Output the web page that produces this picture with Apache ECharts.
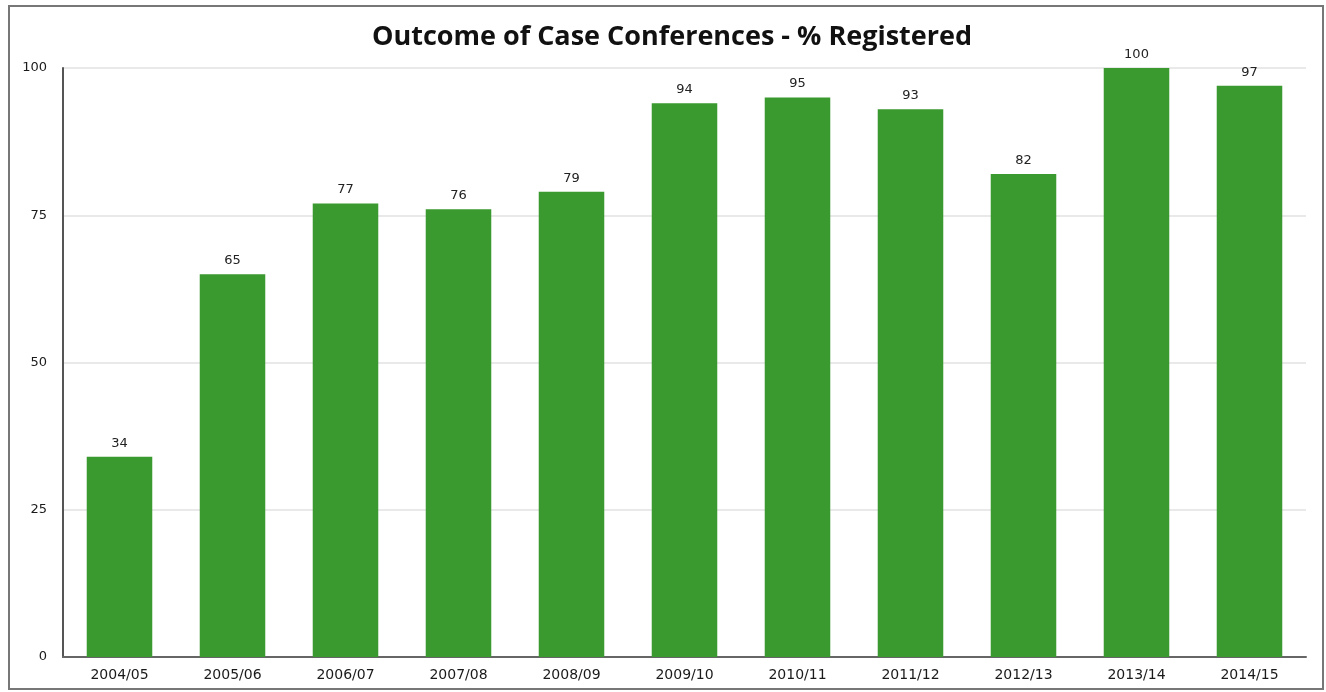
<!DOCTYPE html>
<html>
<head>
<meta charset="utf-8">
<script src="https://cdn.jsdelivr.net/npm/echarts@6/dist/echarts.min.js"></script>
<style>
  html, body { margin: 0; padding: 0; background: #fff; }
  #main { width: 1326px; height: 692px; }
</style>
</head>
<body>
<div id="main"></div>
<script>
  // 年度
  const years = ['2004/05', '2005/06', '2006/07', '2007/08', '2008/09', '2009/10',
    '2010/11', '2011/12', '2012/13', '2013/14', '2014/15']
  // % registered
  const registered = [34, 65, 77, 76, 79, 94, 95, 93, 82, 100, 97]
  const yTicks = [0, 25, 50, 75, 100]

  const chart = echarts.init(document.getElementById('main'))
  chart.setOption({
    animation: false,
    title: {
      text: 'Outcome of Case Conferences - % Registered',
      left: 667,
      textAlign: 'center',
      top: 19,
      textStyle: {
        fontFamily: 'Open Sans',
        fontWeight: 'bold',
        fontSize: 27,
        color: '#111'
      }
    },
    graphic: [{
      type: 'rect',
      shape: { x: 9, y: 6, width: 1314, height: 683 },
      style: { fill: 'none', stroke: '#777', lineWidth: 2 },
      silent: true
    }],
    grid: { left: 63, right: 20, top: 68, bottom: 35 },
    xAxis: {
      type: 'category',
      data: years,
      axisLine: { lineStyle: { color: '#666', width: 2 } },
      axisTick: { show: false },
      axisLabel: { color: '#1a1a1a', fontFamily: 'DejaVu Sans', fontSize: 14, margin: 11 }
    },
    yAxis: {
      type: 'value',
      min: yTicks[0],
      max: yTicks[yTicks.length - 1],
      interval: 25,
      axisLine: { show: true, lineStyle: { color: '#555', width: 2 } },
      axisTick: { show: false },
      axisLabel: { color: '#1a1a1a', fontFamily: 'DejaVu Sans', fontSize: 13, margin: 16 },
      splitLine: { lineStyle: { color: '#e2e2e2', width: 1.5 } }
    },
    series: [{
      type: 'bar',
      data: registered,
      barWidth: '58%',
      itemStyle: { color: '#3a9a2f' },
      label: {
        show: true,
        position: 'top',
        distance: 7,
        color: '#222',
        fontFamily: 'DejaVu Sans',
        fontSize: 13
      }
    }]
  })
</script>
</body>
</html>
